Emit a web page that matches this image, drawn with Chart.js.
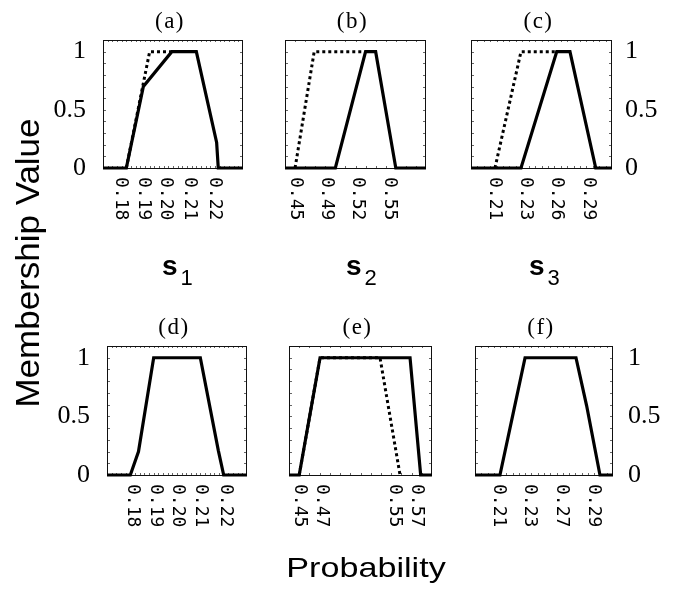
<!DOCTYPE html>
<html>
<head>
<meta charset="utf-8">
<script src="https://cdn.jsdelivr.net/npm/chart.js@4"></script>
<style>
  body { margin: 0; background: #fff; }
  #wrap { position: relative; width: 677px; height: 595px; background: #fff; }
  #wrap canvas { position: absolute; left: 0; top: 0; }
</style>
</head>
<body>
<div id="wrap">
  <canvas id="panel-a" width="677" height="595"></canvas>
  <canvas id="panel-b" width="677" height="595"></canvas>
  <canvas id="panel-c" width="677" height="595"></canvas>
  <canvas id="panel-d" width="677" height="595"></canvas>
  <canvas id="panel-e" width="677" height="595"></canvas>
  <canvas id="panel-f" width="677" height="595"></canvas>
</div>
<script>
// Shared y axis (membership value)
const yTicks = [0, 0.5, 1];
const yTickLabels = ['0', '0.5', '1'];

// (a)
const aSolidX = [0.17, 0.18, 0.1873, 0.1995, 0.21, 0.2187, 0.2194, 0.23];
const aSolidY = [0, 0, 0.70, 1, 1, 0.22, 0, 0];
const aDotX = [0.18, 0.19, 0.1995];
const aDotY = [0, 1, 1];
const aTickX = [0.1775, 0.1875, 0.197, 0.207, 0.218];
const aTickLabels = ['0.18', '0.19', '0.20', '0.21', '0.22'];

// (b)
const bSolidX = [0.44, 0.49, 0.52, 0.53, 0.55, 0.58];
const bSolidY = [0, 0, 1, 1, 0, 0];
const bDotX = [0.45, 0.469, 0.517];
const bDotY = [0, 1, 1];
const bTickX = [0.4506, 0.4814, 0.5122, 0.5443];
const bTickLabels = ['0.45', '0.49', '0.52', '0.55'];

// (c)
const cSolidX = [0.19, 0.229, 0.2569, 0.2672, 0.2873, 0.30];
const cSolidY = [0, 0, 1, 1, 0, 0];
const cDotX = [0.2087, 0.229, 0.2563];
const cDotY = [0, 1, 1];
const cTickX = [0.2087, 0.2327, 0.2571, 0.2821];
const cTickLabels = ['0.21', '0.23', '0.26', '0.29'];

// (d)
const dSolidX = [0.17, 0.18, 0.1835, 0.19, 0.21, 0.2177, 0.22, 0.23];
const dSolidY = [0, 0, 0.2, 1, 1, 0.21, 0, 0];
const dTickX = [0.1808, 0.1909, 0.2004, 0.2101, 0.2209];
const dTickLabels = ['0.18', '0.19', '0.20', '0.21', '0.22'];

// (e)
const eSolidX = [0.44, 0.45, 0.4704, 0.5585, 0.5689, 0.58];
const eSolidY = [0, 0, 1, 1, 0, 0];
const eDotX = [0.45, 0.4704, 0.5291, 0.5487];
const eDotY = [0, 1, 1, 0];
const eTickX = [0.4508, 0.4721, 0.5439, 0.5652];
const eTickLabels = ['0.45', '0.47', '0.55', '0.57'];

// (f)
const fSolidX = [0.19, 0.2099, 0.2205, 0.2299, 0.2705, 0.279, 0.2896, 0.30];
const fSolidY = [0, 0, 0.53, 1, 1, 0.59, 0, 0];
const fTickX = [0.2087, 0.2339, 0.2592, 0.2844];
const fTickLabels = ['0.21', '0.23', '0.27', '0.29'];

// Row labels under the top row
const sLabels = ['1', '2', '3'];

const W = 677, H = 595;
const Y_AXIS_W = 60;

function toPoints(xs, ys) {
    return xs.map((x, i) => ({ x: x, y: ys[i] }));
}

// Figure-level text: axis titles and s1..s3
const pageText = {
    id: 'pageText',
    afterDraw(chart) {
        const ctx = chart.ctx;
        ctx.save();
        ctx.fillStyle = '#000';

        ctx.save();
        ctx.translate(30, 263);
        ctx.rotate(-Math.PI / 2);
        ctx.scale(1.06, 1);
        ctx.font = '33px "Liberation Sans", Arial, sans-serif';
        ctx.textAlign = 'center';
        ctx.textBaseline = 'middle';
        ctx.fillText('Membership Value', 0, 0);
        ctx.restore();

        ctx.save();
        ctx.translate(366, 577);
        ctx.scale(1.22, 1);
        ctx.font = '28px "Liberation Sans", Arial, sans-serif';
        ctx.textAlign = 'center';
        ctx.textBaseline = 'alphabetic';
        ctx.fillText('Probability', 0, 0);
        ctx.restore();

        const sLeft = [162, 346, 529];
        sLabels.forEach((sub, i) => {
            ctx.font = 'bold 28px "Liberation Sans", Arial, sans-serif';
            ctx.textAlign = 'left';
            ctx.textBaseline = 'alphabetic';
            ctx.fillText('s', sLeft[i], 275);
            const w = ctx.measureText('s').width;
            ctx.font = '22px "Liberation Sans", Arial, sans-serif';
            ctx.fillText(sub, sLeft[i] + w + 3, 285);
        });
        ctx.restore();
    }
};

// Box, minor ticks, rotated tick labels and panel title
const panelDecor = {
    id: 'panelDecor',
    beforeDatasetsDraw(chart, args, opts) {
        const ctx = chart.ctx;
        const a = chart.chartArea;
        const x = chart.scales.x, y = chart.scales.y;
        ctx.save();
        ctx.strokeStyle = '#666';
        ctx.lineWidth = 1;
        ctx.beginPath();
        for (let v = 0.1; v < 1.05; v += 0.1) {
            const py = Math.round(y.getPixelForValue(v)) + 0.5;
            ctx.moveTo(a.left, py); ctx.lineTo(a.left + 3, py);
            ctx.moveTo(a.right, py); ctx.lineTo(a.right - 3, py);
        }
        const step = opts.minorStep;
        for (let v = x.min + step; v < x.max - step / 2; v += step) {
            const px = Math.round(x.getPixelForValue(v)) + 0.5;
            ctx.moveTo(px, a.top); ctx.lineTo(px, a.top + 2);
            ctx.moveTo(px, a.bottom); ctx.lineTo(px, a.bottom - 2);
        }
        ctx.stroke();
        ctx.strokeStyle = '#111';
        ctx.strokeRect(a.left + 0.5, a.top + 0.5, a.right - a.left - 1, a.bottom - a.top);
        ctx.restore();
    },
    afterDraw(chart, args, opts) {
        const ctx = chart.ctx;
        const a = chart.chartArea;
        const x = chart.scales.x;
        ctx.save();
        ctx.fillStyle = '#000';
        ctx.font = '18px "DejaVu Sans Mono", "Liberation Mono", monospace';
        ctx.textAlign = 'left';
        ctx.textBaseline = 'middle';
        opts.tickX.forEach((v, i) => {
            ctx.save();
            ctx.translate(x.getPixelForValue(v), a.bottom + 9);
            ctx.rotate(Math.PI / 2);
            ctx.fillText(opts.tickLabels[i], 0, 0);
            ctx.restore();
        });
        ctx.font = '23px "Liberation Serif", "Times New Roman", serif';
        ctx.letterSpacing = '1.5px';
        ctx.textAlign = 'center';
        ctx.textBaseline = 'alphabetic';
        ctx.fillText(opts.title, (a.left + a.right) / 2 - 3, a.top - 12);
        ctx.restore();
    }
};

function makePanel(p) {
    const datasets = [{
        data: toPoints(p.solidX, p.solidY),
        borderColor: '#000',
        borderWidth: 3.2,
        pointRadius: 0,
        tension: 0,
        fill: false,
        clip: false
    }];
    if (p.dotX) {
        datasets.push({
            data: toPoints(p.dotX, p.dotY),
            borderColor: '#000',
            borderWidth: 3,
            borderDash: [3, 3],
            borderCapStyle: 'butt',
            pointRadius: 0,
            tension: 0,
            fill: false,
            clip: false
        });
    }
    const side = p.side || 'left';
    const axisW = p.side ? Y_AXIS_W : 0;
    const pad = {
        left: p.box[0] - (side === 'left' ? axisW : 0),
        top: p.box[1],
        right: W - p.box[2] - (side === 'right' ? axisW : 0),
        bottom: H - p.box[3]
    };
    return new Chart(document.getElementById(p.id), {
        type: 'line',
        data: { datasets: datasets },
        plugins: p.extra ? [panelDecor, p.extra] : [panelDecor],
        options: {
            responsive: false,
            animation: false,
            devicePixelRatio: 1,
            layout: { padding: pad },
            plugins: {
                legend: { display: false },
                tooltip: { enabled: false },
                panelDecor: { title: p.title, tickX: p.tickX, tickLabels: p.tickLabels, minorStep: p.minorStep }
            },
            scales: {
                x: { type: 'linear', min: p.xMin, max: p.xMax, display: false },
                y: {
                    type: 'linear',
                    min: 0,
                    max: 1.1,
                    position: side,
                    display: !!p.side,
                    afterFit: function(scale) { scale.width = axisW; },
                    afterBuildTicks: function(scale) { scale.ticks = yTicks.map(v => ({ value: v })); },
                    grid: { display: false },
                    border: { display: false },
                    ticks: {
                        padding: p.yPad || 8,
                        color: '#000',
                        font: { family: '"Liberation Serif", "Times New Roman", serif', size: 26 },
                        callback: function(value, index) { return yTickLabels[index]; }
                    }
                }
            }
        }
    });
}

makePanel({ id: 'panel-a', box: [103, 40, 243, 168], xMin: 0.17, xMax: 0.23, side: 'left', yPad: 9,
    title: '(a)', minorStep: 0.002, solidX: aSolidX, solidY: aSolidY, dotX: aDotX, dotY: aDotY,
    tickX: aTickX, tickLabels: aTickLabels, extra: pageText });
makePanel({ id: 'panel-b', box: [285, 40, 426, 168], xMin: 0.44, xMax: 0.58,
    title: '(b)', minorStep: 0.01, solidX: bSolidX, solidY: bSolidY, dotX: bDotX, dotY: bDotY,
    tickX: bTickX, tickLabels: bTickLabels });
makePanel({ id: 'panel-c', box: [471, 40, 612, 168], xMin: 0.19, xMax: 0.30, side: 'right', yPad: 5,
    title: '(c)', minorStep: 0.005, solidX: cSolidX, solidY: cSolidY, dotX: cDotX, dotY: cDotY,
    tickX: cTickX, tickLabels: cTickLabels });
makePanel({ id: 'panel-d', box: [107, 346, 247, 475], xMin: 0.17, xMax: 0.23, side: 'left', yPad: 9,
    title: '(d)', minorStep: 0.002, solidX: dSolidX, solidY: dSolidY,
    tickX: dTickX, tickLabels: dTickLabels });
makePanel({ id: 'panel-e', box: [289, 346, 432, 475], xMin: 0.44, xMax: 0.58,
    title: '(e)', minorStep: 0.01, solidX: eSolidX, solidY: eSolidY, dotX: eDotX, dotY: eDotY,
    tickX: eTickX, tickLabels: eTickLabels });
makePanel({ id: 'panel-f', box: [475, 346, 613, 475], xMin: 0.19, xMax: 0.30, side: 'right', yPad: 7,
    title: '(f)', minorStep: 0.005, solidX: fSolidX, solidY: fSolidY,
    tickX: fTickX, tickLabels: fTickLabels });
</script>
</body>
</html>
